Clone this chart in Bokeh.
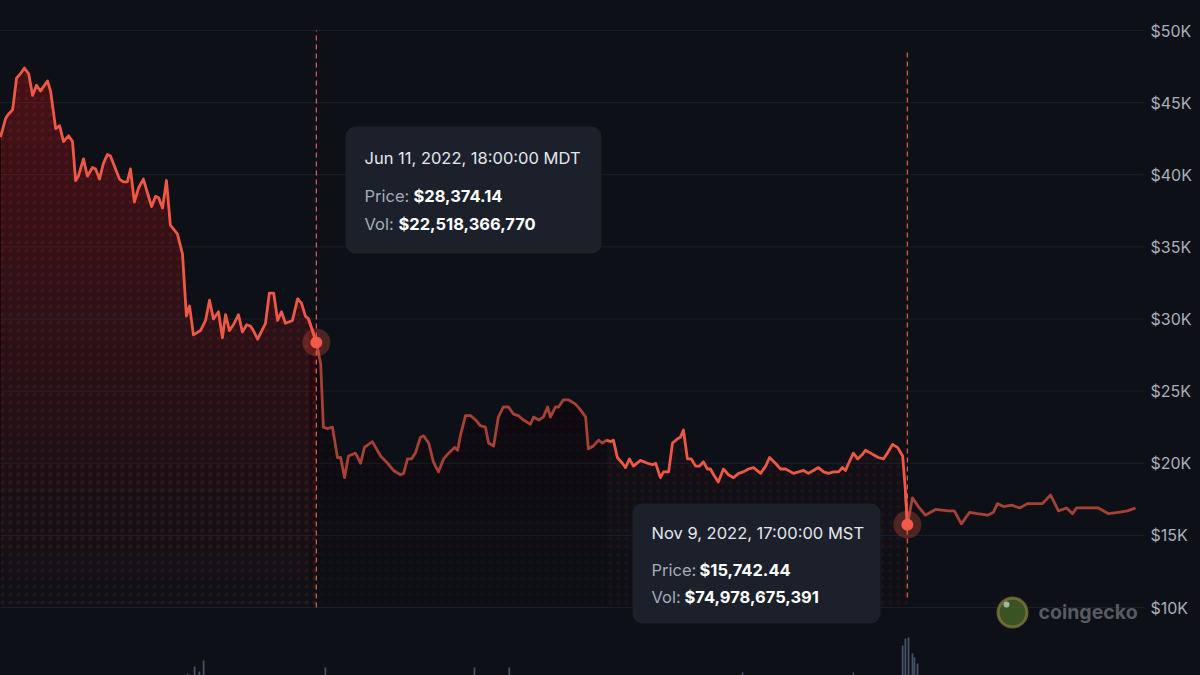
import numpy as np
import pandas as pd
from bokeh.plotting import figure
from bokeh.models import Range1d, BoxAnnotation, Label
from bokeh.core.properties import value
from bokeh.embed import file_html
from bokeh.resources import INLINE

# ---------------- data ----------------
# time axis: days after START (START = 80.7 days before Jun 12 2022 00:00 UTC)
START = pd.Timestamp("2022-06-12 00:00") - pd.Timedelta(days=80.7)

day_offsets = [
    0.0, 1.3, 2.0, 3.1, 4.1, 5.1, 6.1, 7.2, 8.2, 9.2, 10.2, 12.0, 12.8, 14.1, 15.1, 16.1,
    17.4, 18.4, 19.2, 19.9, 21.2, 22.2, 23.5, 24.3, 25.3, 26.3, 27.3, 28.1, 29.4, 30.4,
    31.4, 32.4, 33.2, 34.2, 35.3, 36.5, 37.6, 38.6, 39.6, 40.4, 41.4, 42.4, 43.4, 45.2,
    46.5, 47.5, 48.3, 49.3, 51.1, 52.4, 53.4, 54.4, 55.7, 56.7, 57.5, 58.5, 59.5, 60.8,
    61.8, 62.9, 63.9, 64.6, 65.7, 67.7, 68.7, 69.8, 70.8, 71.8, 72.8, 74.6, 75.9, 76.9,
    77.9, 78.7, 80.7, 81.8, 82.5, 83.5, 84.8, 86.1, 86.9, 87.9, 88.9, 90.7, 92.0, 93.0,
    95.0, 97.1, 98.9, 100.4, 102.2, 103.0, 104.0, 105.0, 106.0, 107.3, 108.1, 109.4,
    110.6, 111.9, 113.2, 114.5, 116.0, 116.8, 117.5, 118.8, 120.1, 121.4, 122.6, 123.9,
    124.7, 126.0, 127.2, 128.5, 129.8, 131.1, 132.3, 133.6, 135.4, 136.2, 137.5, 138.7,
    139.8, 140.5, 141.8, 142.6, 143.8, 145.1, 146.9, 148.2, 149.5, 150.2, 151.5, 152.8,
    153.8, 154.8, 155.9, 156.6, 157.6, 158.9, 159.7, 160.7, 161.7, 163.5, 165.3, 166.6,
    167.4, 168.6, 169.4, 170.7, 171.7, 173.0, 173.7, 174.5, 175.5, 176.5, 177.6, 178.6,
    179.6, 180.6, 181.4, 182.2, 183.4, 184.7, 186.0, 187.3, 188.6, 189.8, 191.1, 192.4,
    194.2, 195.5, 196.5, 198.0, 199.3, 200.6, 201.3, 202.6, 203.9, 205.2, 206.4, 207.7,
    209.0, 210.3, 211.6, 212.8, 214.1, 215.1, 215.9, 216.7, 217.9, 219.0, 220.2, 221.0,
    222.3, 223.6, 224.3, 225.6, 226.6, 227.9, 229.2, 230.5, 231.2, 231.7, 233.0, 234.5,
    236.3, 238.9, 242.2, 243.7, 245.5, 247.6, 249.6, 252.2, 253.7, 254.7, 256.3, 258.3,
    260.4, 262.4, 264.4, 266.2, 268.3, 270.3, 272.4, 273.9, 274.9, 278.5, 280.5, 283.1,
    285.6, 287.9, 290.0,
]
prices = [
    42600, 43900, 44200, 44500, 46700, 47000, 47400, 47000, 45500, 46200, 45800, 46500,
    45800, 43200, 43400, 42300, 42700, 42300, 39600, 39900, 41100, 39900, 40500, 40400,
    39700, 40800, 41400, 41300, 40400, 39700, 39500, 39500, 40400, 38100, 39100, 39700,
    38700, 37800, 38500, 38400, 37700, 39600, 36500, 35900, 34500, 30200, 30900, 28900,
    29200, 29900, 31300, 30000, 30500, 28700, 30300, 29200, 29600, 30300, 29100, 29600,
    29500, 29200, 28600, 29700, 31800, 31800, 29900, 30500, 29700, 29900, 31400, 31100,
    30200, 30000, 28374.14, 26900, 22500, 22400, 22500, 20400, 20400, 19000, 20500, 20700,
    20000, 21100, 21500, 20500, 20000, 19500, 19200, 19300, 20300, 20300, 20700, 21800,
    21900, 21400, 20100, 19400, 20300, 20700, 21100, 20900, 21900, 23300, 23300, 23000,
    22600, 22500, 21400, 21200, 23200, 23900, 23900, 23400, 23300, 23000, 22700, 23200,
    23000, 23200, 23900, 23200, 23900, 23900, 24400, 24400, 24100, 23700, 23200, 21000,
    21200, 21600, 21400, 21600, 21500, 21600, 20400, 20000, 19700, 20300, 19800, 20200,
    20000, 19900, 20000, 19000, 19400, 19400, 21400, 21700, 21800, 22300, 20300, 20300,
    19800, 19800, 20100, 19600, 19600, 19200, 18700, 19600, 19200, 19000, 19300, 19400,
    19600, 19700, 19300, 19800, 20400, 20000, 19600, 19600, 19500, 19300, 19400, 19500,
    19300, 19500, 19700, 19400, 19300, 19400, 19400, 19700, 19500, 20000, 20700, 20300,
    20600, 20900, 20700, 20500, 20400, 20300, 20700, 21300, 21100, 20500, 18100, 15742.44,
    17600, 17000, 16400, 16800, 16700, 16700, 15800, 16600, 16500, 16400, 16600, 17200,
    17000, 17100, 16900, 17200, 17200, 17200, 17800, 16700, 16900, 16500, 16900, 16900,
    16900, 16500, 16600, 16700, 16900,
]

# volume bars (only the ones tall enough to show at the bottom edge)
vol_days = [47.8, 49.6, 50.8, 51.9, 83.0, 121.1, 130.0, 189.6, 217.9,
            230.5, 231.2, 232.0, 233.0, 233.5, 234.3]
volumes = [41.8e9, 48.3e9, 43.7e9, 53.8e9, 47.4e9, 47.4e9, 47.4e9, 42.8e9, 42.8e9,
           67.6e9, 74.0e9, 75.0e9, 60.3e9, 56.6e9, 51.0e9]

hover_days = [80.7, 231.7]
hover_prices = [28374.14, 15742.44]
hover_titles = ["Jun 11, 2022, 18:00:00 MDT", "Nov 9, 2022, 17:00:00 MST"]
hover_price_text = ["$28,374.14", "$15,742.44"]
hover_vol_text = ["$22,518,366,770", "$74,978,675,391"]

y_ticks = [10000, 15000, 20000, 25000, 30000, 35000, 40000, 45000, 50000]
y_tick_labels = ["$10K", "$15K", "$20K", "$25K", "$30K", "$35K", "$40K", "$45K", "$50K"]

# screenshot was stitched from two hover states: brightness per time span
region_bounds = [0.0, 80.7, 155.3, 231.7, 292.0]
region_line_alpha = [1.0, 0.68, 1.0, 0.68]
region_fill_mult = [1.0, 0.35, 0.6, 0.12]

# ---------------- styling / geometry ----------------
BG = "#0d1016"
RED = "#ef5845"
GRID = "#1b202a"
FONT = "Inter"

W, H = 1200, 675
SHIFT = 2                    # canvas pushed 2px up/left so its edge seams fall off-screen
PX_PER_DAY = 591.0 / 151.0   # horizontal scale
PX_PER_USD = 14.425 / 1000.0 # vertical scale
Y_AT_30PX = 50000.0
PLOT_RIGHT_PX = 1143
VOL_BASE, PX_PER_VOL = 40e9, 1.086e-9
DAY_MS = 86400000.0
START_MS = START.value / 1e6

def to_dt(days):
    return START + pd.to_timedelta(np.asarray(days, dtype=float), unit="D")

def sx(px):
    return START_MS + px / PX_PER_DAY * DAY_MS

def sy(py):
    return Y_AT_30PX - (py - 30) / PX_PER_USD

x_range = Range1d(sx(-SHIFT), sx(W))
y_range = Range1d(sy(H), sy(-SHIFT))

p = figure(width=W + SHIFT, height=H + SHIFT, x_axis_type="datetime", x_axis_location=None,
           y_axis_location=None, output_backend="svg", toolbar_location=None,
           x_range=x_range, y_range=y_range,
           background_fill_color=BG, border_fill_color=BG,
           min_border_left=0, min_border_top=0, min_border_bottom=0,
           min_border_right=0, outline_line_color=None)
p.margin = (-SHIFT, 0, 0, -SHIFT)
p.xgrid.grid_line_color = None
p.ygrid.grid_line_color = None
p.extra_y_ranges = {"vol": Range1d(VOL_BASE, VOL_BASE + (H + SHIFT) / PX_PER_VOL)}

# horizontal grid lines + right-side price labels
p.segment(x0=sx(0), x1=sx(PLOT_RIGHT_PX), y0=y_ticks, y1=y_ticks,
          line_color=GRID, line_width=1)
p.text(x=[sx(1150)] * len(y_ticks), y=y_ticks, text=y_tick_labels,
       text_font=value(FONT), text_font_size="16px", text_color="#a9b0bc",
       text_baseline="middle", text_align="left")

d = np.array(day_offsets)
pr = np.array(prices, dtype=float)

# volume bars
p.vbar(x=to_dt(vol_days), top=volumes, bottom=0, width=0.45 * DAY_MS,
       y_range_name="vol", fill_color="#4c5a6f", line_color=None, fill_alpha=0.9)

# area fills + line, per region
levels = np.arange(10000, 50000, 2000)
for k in range(4):
    lo, hi = region_bounds[k], region_bounds[k + 1]
    idx = np.where((d >= lo) & (d <= hi))[0]
    if idx[0] > 0:
        idx = np.concatenate([[idx[0] - 1], idx])
    xd = to_dt(d[idx])
    yv = pr[idx]
    m = region_fill_mult[k]
    for L in levels:
        p.varea(x=xd, y1=float(L), y2=np.maximum(yv, L), fill_color=RED,
                fill_alpha=0.016 * m)
    p.varea(x=xd, y1=10000.0, y2=yv, fill_alpha=0.0, hatch_pattern="dot",
            hatch_color=RED, hatch_alpha=0.09 * m, hatch_scale=8, hatch_weight=1.0)
    p.line(x=xd, y=yv, line_color=RED, line_width=2.8, line_alpha=region_line_alpha[k],
           line_join="round")

# hover crosshair lines and markers
hd = to_dt(hover_days)
p.segment(x0=hd, x1=hd, y0=[10000, 10700], y1=[50000, 48600], line_color="#e2604d",
          line_width=1.2, line_dash="5 4")
p.scatter(x=hd, y=hover_prices, size=28, fill_color=RED, fill_alpha=0.28, line_color=None)
p.scatter(x=hd, y=hover_prices, size=12, fill_color="#f25a48", line_color=None)

# tooltips
boxes = [(345, 601, 126, 253), (632, 880, 503, 623)]
text_rows = [(364, 157, 195, 223, 413, 398), (651, 532, 569, 596, 699, 684)]
for i in range(2):
    l, r, t, b = boxes[i]
    p.add_layout(BoxAnnotation(left=sx(l), right=sx(r), top=sy(t), bottom=sy(b),
                               fill_color="#1b202a", fill_alpha=1.0, line_color=None,
                               border_radius=10))
    tx, ty, py_, vy, pvx, vvx = text_rows[i]
    common = dict(text_font=FONT, text_font_size="16.5px", text_baseline="middle")
    p.add_layout(Label(x=sx(tx), y=sy(ty), text=hover_titles[i], text_color="#e3e7ed", **common))
    p.add_layout(Label(x=sx(tx), y=sy(py_), text="Price:", text_color="#a4acb9", **common))
    p.add_layout(Label(x=sx(pvx), y=sy(py_), text=hover_price_text[i], text_color="#ffffff",
                       text_font_style="bold", **common))
    p.add_layout(Label(x=sx(tx), y=sy(vy), text="Vol:", text_color="#a4acb9", **common))
    p.add_layout(Label(x=sx(vvx), y=sy(vy), text=hover_vol_text[i], text_color="#ffffff",
                       text_font_style="bold", **common))

# coingecko watermark
p.scatter(x=[sx(1012)], y=[sy(612)], size=29, fill_color="#4b6a28", fill_alpha=0.75,
          line_color="#8a7f3e", line_width=3, line_alpha=0.7)
p.scatter(x=[sx(1006)], y=[sy(604)], size=6, fill_color="#d9e2cc", fill_alpha=0.7, line_color=None)
p.add_layout(Label(x=sx(1038), y=sy(611), text="coingecko", text_font=FONT,
                   text_font_size="19.5px", text_font_style="bold", text_color="#565b63",
                   text_baseline="middle"))

open("out.html", "w").write(file_html(p, INLINE))
